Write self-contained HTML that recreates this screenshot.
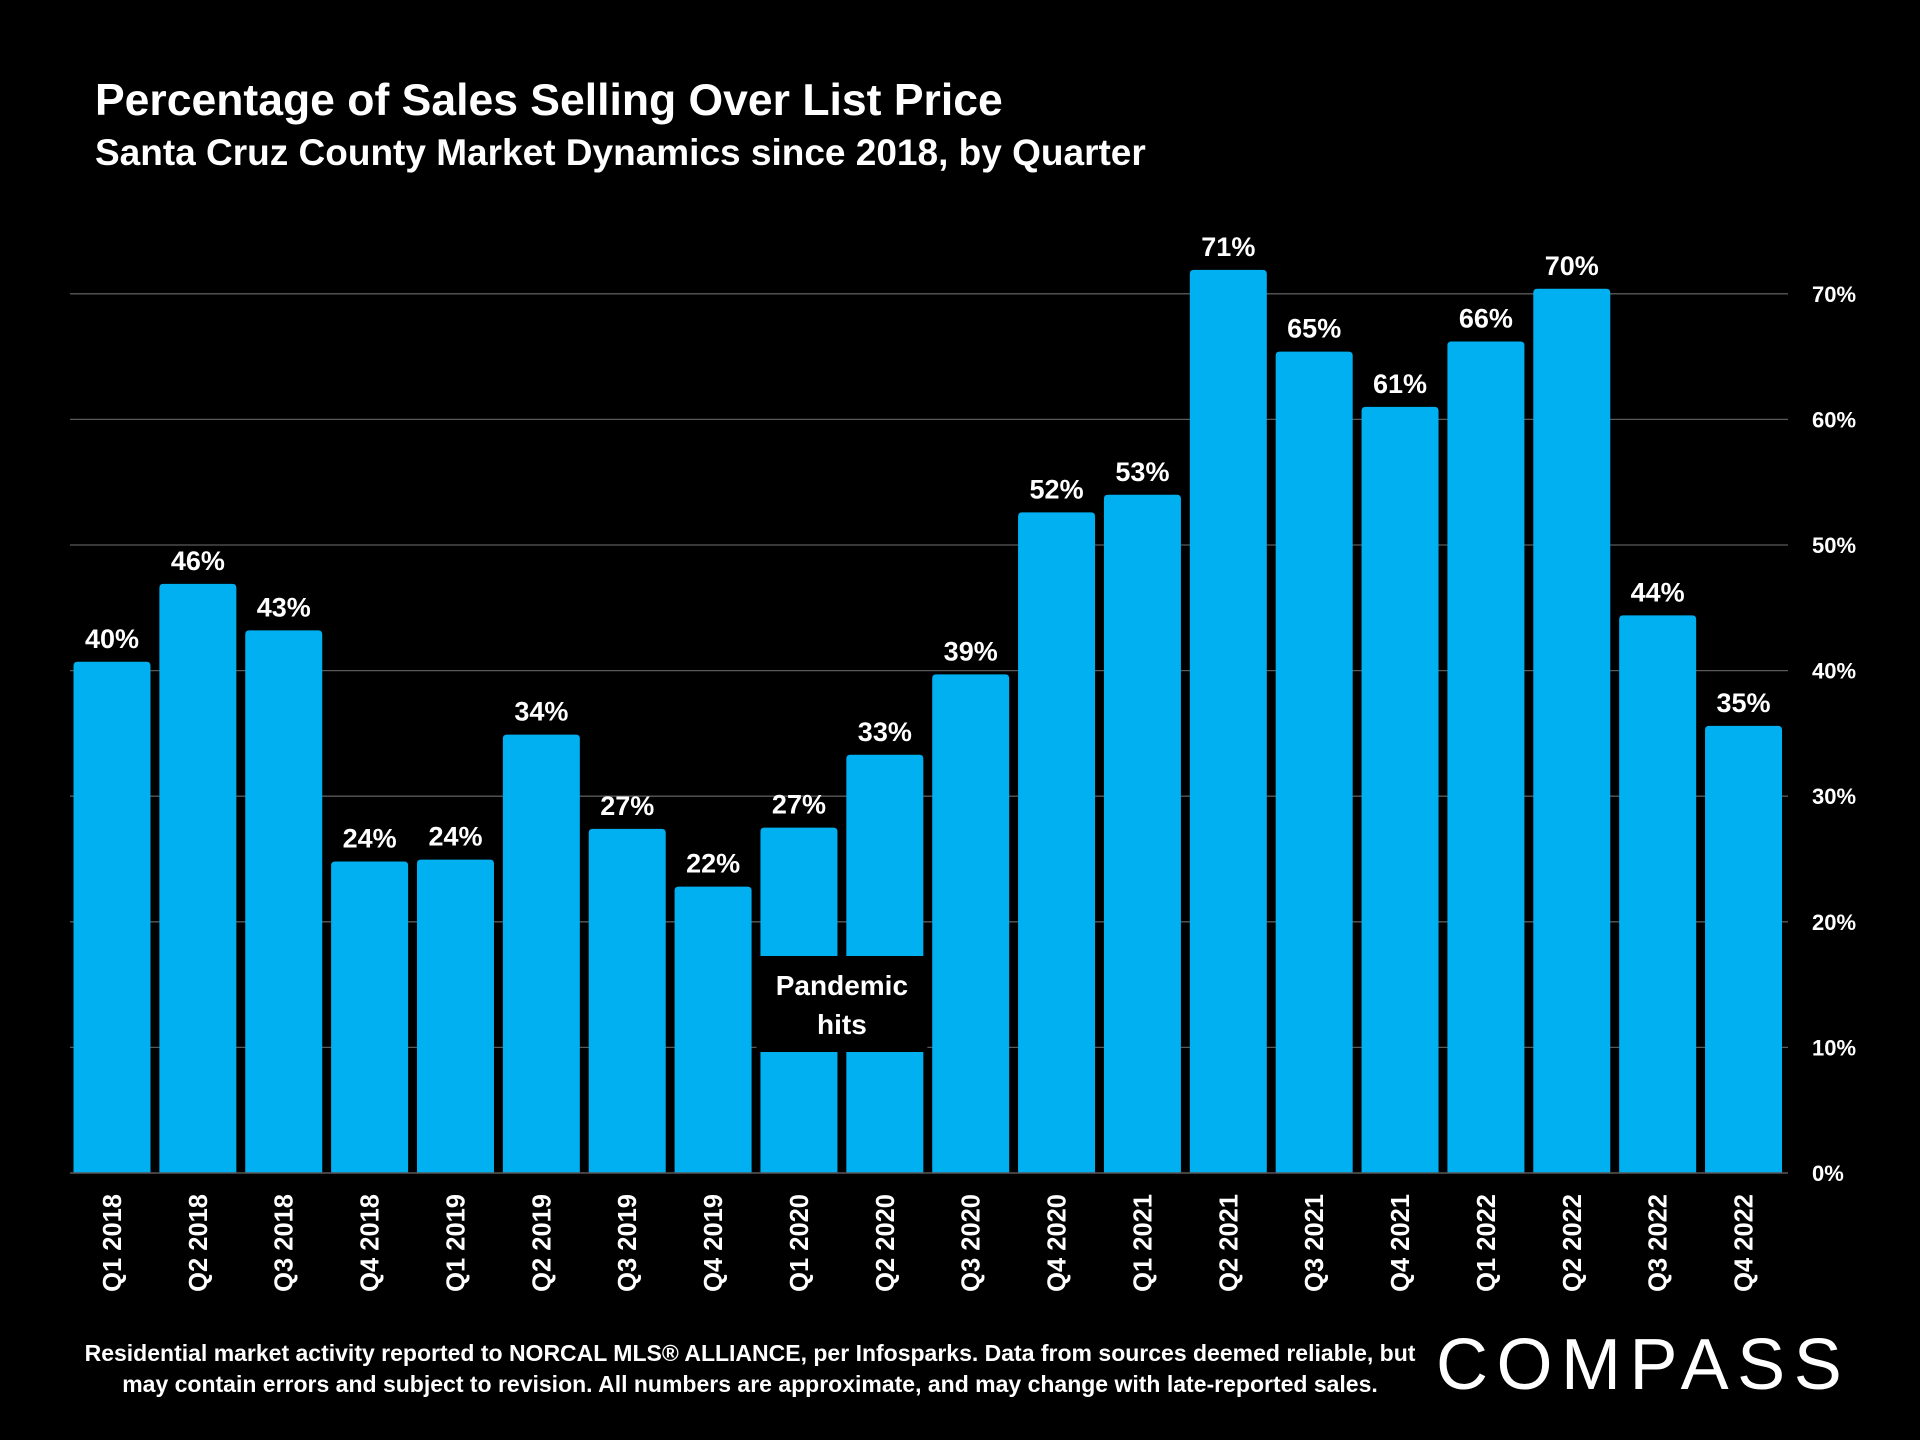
<!DOCTYPE html>
<html><head><meta charset="utf-8">
<style>
html,body{margin:0;padding:0;background:#000;}
body{width:1920px;height:1440px;position:relative;overflow:hidden;font-family:"Liberation Sans",sans-serif;color:#fff;}
.t{position:absolute;font-weight:bold;white-space:nowrap;}
</style></head><body>
<div class="t" style="left:95px;top:76px;font-size:44.5px;">Percentage of Sales Selling Over List Price</div>
<div class="t" style="left:95px;top:132px;font-size:37px;">Santa Cruz County Market Dynamics since 2018, by Quarter</div>
<svg id="chart" width="1920" height="1440" style="position:absolute;left:0;top:0;" xmlns="http://www.w3.org/2000/svg"></svg>
<div class="t" style="left:750px;top:1338px;font-size:23px;transform:translateX(-50%);text-align:center;line-height:31px;">Residential market activity reported to NORCAL MLS® ALLIANCE, per Infosparks. Data from sources deemed reliable, but<br>may contain errors and subject to revision. All numbers are approximate, and may change with late-reported sales.</div>
<div class="t" style="left:1436px;top:1324px;font-size:72px;font-weight:normal;letter-spacing:8.5px;">COMPASS</div>
<script>
const categories=["Q1 2018","Q2 2018","Q3 2018","Q4 2018","Q1 2019","Q2 2019","Q3 2019","Q4 2019","Q1 2020","Q2 2020","Q3 2020","Q4 2020","Q1 2021","Q2 2021","Q3 2021","Q4 2021","Q1 2022","Q2 2022","Q3 2022","Q4 2022"];
const values=[40.7,46.9,43.2,24.8,24.95,34.9,27.4,22.8,27.5,33.3,39.7,52.6,54.0,71.9,65.4,61.0,66.2,70.4,44.4,35.6];
const valueLabels=["40%","46%","43%","24%","24%","34%","27%","22%","27%","33%","39%","52%","53%","71%","65%","61%","66%","70%","44%","35%"];
const ticks=[0,10,20,30,40,50,60,70];
const tickLabels=["0%","10%","20%","30%","40%","50%","60%","70%"];
const svg=document.getElementById('chart');
const NS="http://www.w3.org/2000/svg";
const y0=1173,pxPer=12.56,x0=112,step=85.87,bw=77;
const y=v=>y0-v*pxPer;
const x=i=>x0+i*step;
function mk(tag,attrs){const e=document.createElementNS(NS,tag);for(const k in attrs)e.setAttribute(k,attrs[k]);svg.appendChild(e);return e;}
ticks.forEach((t,i)=>{
  if(t>0){const l=mk('line',{x1:70,x2:1788,y1:y(t),y2:y(t),stroke:'#595959','stroke-width':1.3});
  
  }
  const tx=mk('text',{x:1812,y:y(t)+8,fill:'#fff','font-size':22,'font-weight':'bold','font-family':'Liberation Sans, sans-serif'});
  tx.textContent=tickLabels[i];
  
  
});
values.forEach((v,i)=>{
  const cx=x(i),top=y(v);
  const p=mk('path',{d:`M${cx-bw/2},${y0} L${cx-bw/2},${top+4} Q${cx-bw/2},${top} ${cx-bw/2+4},${top} L${cx+bw/2-4},${top} Q${cx+bw/2},${top} ${cx+bw/2},${top+4} L${cx+bw/2},${y0} Z`,fill:'#00B0F0'});
  
  
  const t=mk('text',{x:cx,y:top-14,fill:'#fff','font-size':27,'font-weight':'bold','text-anchor':'middle','font-family':'Liberation Sans, sans-serif'});
  t.textContent=valueLabels[i];
  
  
  const c=mk('text',{x:0,y:0,fill:'#fff','font-size':25.5,'font-weight':'bold','text-anchor':'end','font-family':'Liberation Sans, sans-serif',transform:`translate(${cx+9},1194) rotate(-90)`});
  c.textContent=categories[i];
  
  
});
const ax=mk('line',{x1:70,x2:1788,y1:y0,y2:y0,stroke:'#595959','stroke-width':1.5});


const bx=mk('rect',{x:x(8)-bw/2-4,y:956,width:x(9)-x(8)+bw+8,height:96,fill:'#000'});


[["Pandemic",995],["hits",1034]].forEach(a=>{
  const t=mk('text',{x:(x(8)+x(9))/2,y:a[1],fill:'#fff','font-size':28,'font-weight':'bold','text-anchor':'middle','font-family':'Liberation Sans, sans-serif'});
  t.textContent=a[0];
  
  
});
</script>
</body></html>
